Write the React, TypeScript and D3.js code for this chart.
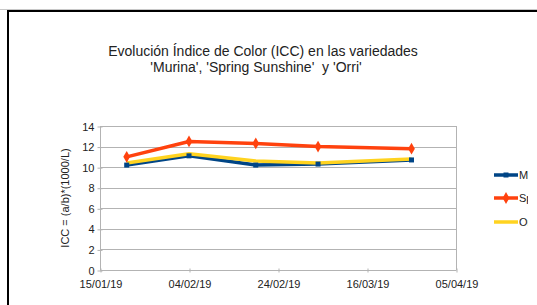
import React, { useEffect, useRef } from "react";
import * as d3 from "d3";

// sampling dates and ICC values per variety
const dates = ["2019-01-21", "2019-02-04", "2019-02-19", "2019-03-05", "2019-03-26"];
const murina = [10.2, 11.1, 10.2, 10.3, 10.7];
const spring = [11.0, 12.5, 12.3, 12.0, 11.8];
const orri = [10.4, 11.3, 10.6, 10.4, 10.8];

const xTickLabels = ["15/01/19", "04/02/19", "24/02/19", "16/03/19", "05/04/19"];
const yTicks = [0, 2, 4, 6, 8, 10, 12, 14];

const seriesNames = ["Murina", "Spring Sunshine", "Orri"];
const seriesColors = ["#004586", "#ff420e", "#ffd320"];

export default function App() {
  const svgRef = useRef<SVGSVGElement>(null);

  useEffect(() => {
    const width = 537;
    const height = 305;
    const margin = { top: 126, right: 81, bottom: 35, left: 100 };
    const font = "Liberation Sans, Arial, sans-serif";

    const svg = d3.select(svgRef.current);
    svg.selectAll("*").remove();

    const parse = d3.timeParse("%d/%m/%y");
    const parseIso = d3.timeParse("%Y-%m-%d");
    const xTicks = xTickLabels.map((s) => parse(s)!);

    const x = d3
      .scaleTime()
      .domain([xTicks[0], xTicks[xTicks.length - 1]])
      .range([margin.left, width - margin.right]);
    const y = d3
      .scaleLinear()
      .domain([0, 14])
      .range([height - margin.bottom, margin.top]);

    svg.append("rect").attr("width", width).attr("height", height).attr("fill", "#fff");

    // the chart is cut at the right, like a cropped screenshot
    svg
      .append("defs")
      .append("clipPath")
      .attr("id", "crop")
      .append("rect")
      .attr("width", 528)
      .attr("height", height);

    // outer frame
    svg
      .append("line")
      .attr("x1", 0).attr("x2", width).attr("y1", 9.5).attr("y2", 9.5)
      .attr("stroke", "#c8c8c8").attr("stroke-width", 1);
    svg
      .append("path")
      .attr("d", `M8,${height + 5}V11H${width + 5}`)
      .attr("fill", "none")
      .attr("stroke", "#000")
      .attr("stroke-width", 2);

    // title
    const title = svg
      .append("text")
      .attr("text-anchor", "middle")
      .attr("font-family", font)
      .attr("font-size", 14)
      .attr("fill", "#222")
      .style("white-space", "pre");
    title.append("tspan").attr("x", 263).attr("y", 56).text("Evolución Índice de Color (ICC) en las variedades");
    title.append("tspan").attr("x", 256).attr("y", 72).text("'Murina', 'Spring Sunshine'  y 'Orri'");

    // grid
    svg
      .append("g")
      .selectAll("line")
      .data(yTicks.slice(1))
      .join("line")
      .attr("x1", margin.left)
      .attr("x2", width - margin.right)
      .attr("y1", (d) => Math.round(y(d)) + 0.5)
      .attr("y2", (d) => Math.round(y(d)) + 0.5)
      .attr("stroke", "#b3b3b3")
      .attr("stroke-width", 1);

    svg
      .append("line")
      .attr("x1", Math.round(width - margin.right) + 0.5)
      .attr("x2", Math.round(width - margin.right) + 0.5)
      .attr("y1", margin.top)
      .attr("y2", height - margin.bottom)
      .attr("stroke", "#b3b3b3");

    // axes
    const xAxis = svg
      .append("g")
      .attr("transform", `translate(0.5,${Math.round(height - margin.bottom) + 0.5})`)
      .call(
        d3
          .axisBottom(x)
          .tickValues(xTicks)
          .tickFormat((d, i) => xTickLabels[i])
          .tickSize(4)
      );
    xAxis.select(".domain").attr("stroke", "#b3b3b3").attr("d", `M${margin.left},0H${width - margin.right}`);
    xAxis.selectAll(".tick line").attr("stroke", "#b3b3b3").attr("y1", -2).attr("y2", 2);
    xAxis
      .selectAll(".tick text")
      .attr("font-family", font)
      .attr("font-size", 11)
      .attr("fill", "#222")
      .attr("dy", "0.85em")
      .attr("y", 8);

    const yAxis = svg
      .append("g")
      .attr("transform", `translate(${margin.left + 0.5},0.5)`)
      .call(d3.axisLeft(y).tickValues(yTicks).tickSize(4));
    yAxis.select(".domain").attr("stroke", "#b3b3b3").attr("d", `M0,${y(0)}V${y(14)}`);
    yAxis.selectAll(".tick line").attr("stroke", "#b3b3b3").attr("x1", -3).attr("x2", 2);
    yAxis
      .selectAll(".tick text")
      .attr("font-family", font)
      .attr("font-size", 11)
      .attr("fill", "#222")
      .attr("x", -6);

    svg
      .append("text")
      .attr("transform", `translate(69,${(y(0) + y(14)) / 2}) rotate(-90)`)
      .attr("text-anchor", "middle")
      .attr("font-family", font)
      .attr("font-size", 11)
      .attr("fill", "#222")
      .text("ICC = (a/b)*(1000/L)");

    const xs = dates.map((d) => parseIso(d)!);
    const allSeries = [murina, spring, orri];
    const line = d3
      .line<number>()
      .x((d, i) => x(xs[i]))
      .y((d) => y(d));

    // draw Murina, Orri, then Spring on top
    [0, 2, 1].forEach((s) => {
      svg
        .append("path")
        .datum(allSeries[s])
        .attr("d", line)
        .attr("fill", "none")
        .attr("stroke", seriesColors[s])
        .attr("stroke-width", 3.5)
        .attr("stroke-linejoin", "round");
    });

    // markers
    svg
      .append("g")
      .selectAll("rect")
      .data(murina)
      .join("rect")
      .attr("x", (d, i) => x(xs[i]) - 2.5)
      .attr("y", (d) => y(d) - 2.5)
      .attr("width", 5)
      .attr("height", 5)
      .attr("fill", seriesColors[0]);

    const diamond = d3.symbol().type(d3.symbolDiamond).size(40);
    svg
      .append("g")
      .selectAll("path")
      .data(spring)
      .join("path")
      .attr("d", diamond)
      .attr("transform", (d, i) => `translate(${x(xs[i])},${y(d)})`)
      .attr("fill", seriesColors[1]);

    // legend
    const legendY = [175, 198, 222];
    const legend = svg
      .append("g")
      .attr("clip-path", "url(#crop)")
      .selectAll("g")
      .data(seriesNames)
      .join("g")
      .attr("transform", (d, i) => `translate(494,${legendY[i]})`);
    legend
      .append("line")
      .attr("x1", 0)
      .attr("x2", 24)
      .attr("stroke", (d, i) => seriesColors[i])
      .attr("stroke-width", 3.5);
    legend
      .filter((d, i) => i === 0)
      .append("rect")
      .attr("x", 9.5).attr("y", -2.5).attr("width", 5).attr("height", 5)
      .attr("fill", seriesColors[0]);
    legend
      .filter((d, i) => i === 1)
      .append("path")
      .attr("d", diamond)
      .attr("transform", "translate(12,0)")
      .attr("fill", seriesColors[1]);
    legend
      .append("text")
      .attr("x", 25)
      .attr("dy", "0.35em")
      .attr("font-family", font)
      .attr("font-size", 11)
      .attr("fill", "#222")
      .text((d) => d);
  }, []);

  return (
    <svg
      ref={svgRef}
      width={537}
      height={305}
      style={{ position: "fixed", left: 0, top: 0, display: "block" }}
    />
  );
}
